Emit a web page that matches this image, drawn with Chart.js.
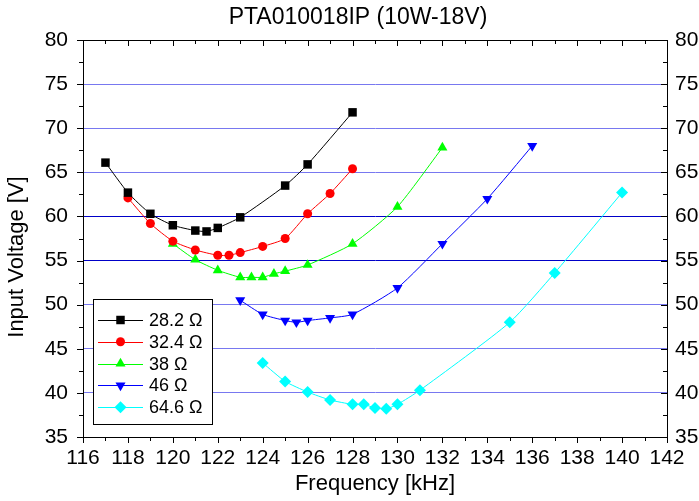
<!DOCTYPE html>
<html>
<head>
<meta charset="utf-8">
<title>PTA010018IP (10W-18V)</title>
<script src="https://cdn.jsdelivr.net/npm/chart.js@4.4.0/dist/chart.umd.min.js"></script>
<style>
  html, body { margin: 0; padding: 0; background: #fff; }
  canvas { display: block; }
</style>
</head>
<body>
<canvas id="myChart" width="699" height="501"></canvas>
<script>
// data
const freq28 = [117, 118, 119, 120, 121, 121.5, 122, 123, 125, 126, 128];
const volt28 = [66.1, 62.7, 60.3, 59.0, 58.4, 58.3, 58.7, 59.9, 63.5, 65.9, 71.8];

const freq32 = [118, 119, 120, 121, 122, 122.5, 123, 124, 125, 126, 127, 128];
const volt32 = [62.1, 59.2, 57.2, 56.2, 55.6, 55.6, 55.9, 56.6, 57.5, 60.3, 62.6, 65.4];

const freq38 = [120, 121, 122, 123, 123.5, 124, 124.5, 125, 126, 128, 130, 132];
const volt38 = [56.9, 55.1, 53.9, 53.1, 53.1, 53.1, 53.5, 53.8, 54.5, 56.9, 61.1, 67.8];

const freq46 = [123, 124, 125, 125.5, 126, 127, 128, 130, 132, 134, 136];
const volt46 = [50.5, 48.9, 48.2, 48.0, 48.2, 48.5, 48.9, 51.9, 56.9, 62.0, 68.0];

const freq64 = [124, 125, 126, 127, 128, 128.5, 129, 129.5, 130, 131, 135, 137, 140];
const volt64 = [43.4, 41.3, 40.1, 39.2, 38.7, 38.7, 38.3, 38.2, 38.7, 40.3, 48.0, 53.6, 62.7];

const seriesNames = ["28.2 \u03A9", "32.4 \u03A9", "38 \u03A9", "46 \u03A9", "64.6 \u03A9"];
const xTicks = [116, 142];
const yTicks = [35, 80];

const chartTitle = "PTA010018IP (10W-18V)";
const xTitle = "Frequency [kHz]";
const yTitle = "Input Voltage [V]";

const FONT = "'Liberation Sans', Arial, sans-serif";

function toPoints(xs, ys) {
  return xs.map((x, i) => ({ x: x, y: ys[i] }));
}

function makeSet(label, xs, ys, color, style, radius, rotation) {
  return {
    label: label,
    data: toPoints(xs, ys),
    borderColor: color,
    backgroundColor: color,
    borderWidth: 1,
    pointStyle: style,
    pointRadius: radius,
    pointRotation: rotation || 0,
    pointBorderWidth: 0,
    pointBackgroundColor: color,
    pointBorderColor: color,
    tension: 0.2,
    fill: false
  };
}

const datasets = [
  makeSet(seriesNames[0], freq28, volt28, "#000000", "rect", 6),
  makeSet(seriesNames[1], freq32, volt32, "#ff0000", "circle", 4.5),
  makeSet(seriesNames[2], freq38, volt38, "#00ff00", "triangle", 5.8),
  makeSet(seriesNames[3], freq46, volt46, "#0000ff", "triangle", 5.8, 180),
  makeSet(seriesNames[4], freq64, volt64, "#00ffff", "rectRot", 6)
];

// ticks, titles and the framed legend
const decorations = {
  id: "decorations",
  afterDraw(chart) {
    const ctx = chart.ctx;
    const area = chart.chartArea;
    const xs = chart.scales.x;
    const ys = chart.scales.y;
    ctx.save();
    ctx.strokeStyle = "#000";
    ctx.lineWidth = 1;
    ctx.beginPath();
    for (let v = xTicks[0]; v <= xTicks[1]; v += 1) {
      const px = Math.round(xs.getPixelForValue(v)) + 0.5;
      const len = v % 2 === 0 ? 6 : 4;
      ctx.moveTo(px, area.bottom);
      ctx.lineTo(px, area.bottom + len);
      ctx.moveTo(px, area.top);
      ctx.lineTo(px, area.top + len);
    }
    for (let v = yTicks[0]; v <= yTicks[1]; v += 2.5) {
      const py = Math.round(ys.getPixelForValue(v)) + 0.5;
      const len = v % 5 === 0 ? 6 : 4;
      ctx.moveTo(area.left, py);
      ctx.lineTo(area.left - len, py);
      ctx.moveTo(area.right, py);
      ctx.lineTo(area.right - len, py);
    }
    ctx.stroke();

    // titles
    ctx.fillStyle = "#000";
    ctx.textAlign = "center";
    ctx.textBaseline = "middle";
    ctx.font = "23px " + FONT;
    ctx.fillText(chartTitle, 358, 18);
    ctx.font = "22px " + FONT;
    ctx.fillText(xTitle, 375, 484);
    ctx.save();
    ctx.translate(17, 257);
    ctx.rotate(-Math.PI / 2);
    ctx.fillText(yTitle, 0, 0);
    ctx.restore();

    // legend
    const bx = 93.5, by = 299.5, bw = 119, bh = 125;
    ctx.fillStyle = "#fff";
    ctx.fillRect(bx, by, bw, bh);
    ctx.strokeStyle = "#000";
    ctx.strokeRect(bx, by, bw, bh);
    chart.data.datasets.forEach((ds, i) => {
      const cy = 320 + i * 21.8;
      ctx.strokeStyle = ds.borderColor;
      ctx.lineWidth = 1;
      ctx.beginPath();
      ctx.moveTo(98, Math.round(cy) + 0.5);
      ctx.lineTo(143, Math.round(cy) + 0.5);
      ctx.stroke();
      ctx.fillStyle = ds.pointBackgroundColor;
      ctx.strokeStyle = ds.pointBorderColor;
      Chart.helpers.drawPoint(ctx, {
        pointStyle: ds.pointStyle,
        rotation: ds.pointRotation,
        radius: ds.pointRadius,
        borderWidth: 0
      }, 120.5, cy);
      ctx.fillStyle = "#000";
      ctx.textAlign = "left";
      ctx.font = "18px " + FONT;
      ctx.fillText(ds.label, 149, cy + 1);
    });
    ctx.restore();
  }
};

function gridColor(context) {
  const v = context.tick ? context.tick.value : null;
  if (v === yTicks[0] || v === yTicks[1]) return "rgba(0,0,0,0)";
  if (v === 55 || v === 60) return "#0000c8";
  return "#7878f0";
}

const config = {
  type: "line",
  data: { datasets },
  options: {
    responsive: false,
    devicePixelRatio: 1,
    animation: false,
    layout: { padding: { top: 40, left: 0, right: 0, bottom: 0 } },
    plugins: {
      legend: { display: false },
      title: { display: false },
      tooltip: { enabled: false }
    },
    scales: {
      x: {
        type: "linear",
        position: "bottom",
        min: xTicks[0],
        max: xTicks[1],
        ticks: { stepSize: 2, color: "#000", padding: 9, font: { family: FONT, size: 21 }, maxRotation: 0, autoSkip: false },
        grid: { drawOnChartArea: false, drawTicks: false },
        border: { display: true, color: "#000", width: 1 },
        afterFit(scale) { scale.height = 64; }
      },
      x2: {
        type: "linear",
        position: "top",
        min: xTicks[0],
        max: xTicks[1],
        ticks: { display: false },
        grid: { drawOnChartArea: false, drawTicks: false },
        border: { display: true, color: "#000", width: 1 },
        afterFit(scale) { scale.height = 0; }
      },
      y: {
        type: "linear",
        position: "left",
        min: yTicks[0],
        max: yTicks[1],
        ticks: { stepSize: 5, color: "#000", padding: 15, font: { family: FONT, size: 21 } },
        grid: { color: gridColor, lineWidth: 1, drawTicks: false },
        border: { display: true, color: "#000", width: 1 },
        afterFit(scale) { scale.width = 83; }
      },
      y2: {
        type: "linear",
        position: "right",
        min: yTicks[0],
        max: yTicks[1],
        ticks: { stepSize: 5, color: "#000", padding: 8, font: { family: FONT, size: 21 } },
        grid: { drawOnChartArea: false, drawTicks: false },
        border: { display: true, color: "#000", width: 1 },
        afterFit(scale) { scale.width = 32; }
      }
    }
  },
  plugins: [decorations]
};

const myChart = new Chart(document.getElementById("myChart"), config);
</script>
</body>
</html>
